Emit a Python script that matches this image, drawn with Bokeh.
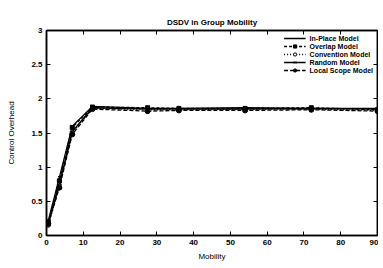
from bokeh.plotting import figure
from bokeh.models import Range1d, LinearAxis, FixedTicker, Legend, LegendItem
from bokeh.embed import file_html
from bokeh.resources import INLINE

mobility = [0.5, 3.5, 7, 12.5, 27.5, 36, 54, 72, 90]
in_place = [0.18, 0.75, 1.52, 1.87, 1.85, 1.85, 1.85, 1.86, 1.85]
overlap = [0.20, 0.80, 1.58, 1.88, 1.87, 1.86, 1.86, 1.87, 1.84]
convention = [0.15, 0.72, 1.50, 1.86, 1.84, 1.84, 1.85, 1.85, 1.83]
random_m = [0.22, 0.85, 1.60, 1.89, 1.86, 1.86, 1.87, 1.86, 1.86]
local_scope = [0.17, 0.70, 1.48, 1.85, 1.82, 1.83, 1.83, 1.84, 1.82]
x_ticks = [0, 10, 20, 30, 40, 50, 60, 70, 80, 90]
y_ticks = [0, 0.5, 1, 1.5, 2, 2.5, 3]

FONT = "Liberation Sans"

p = figure(frame_width=331, frame_height=205, output_backend="svg", toolbar_location=None,
           x_range=Range1d(0, 90), y_range=Range1d(0, 3),
           title="DSDV in Group Mobility",
           min_border_left=46, min_border_right=1, min_border_top=30, min_border_bottom=20)
p.title.align = "center"
p.title.text_font = FONT
p.title.text_font_size = "8px"
p.title.text_font_style = "bold"
p.title.text_color = "black"
p.title.standoff = 8
p.title.offset = 0

p.xgrid.visible = False
p.ygrid.visible = False
p.outline_line_color = "black"
p.outline_line_width = 1.5

for ax in (p.xaxis[0], p.yaxis[0]):
    ax.major_tick_in = 4
    ax.major_tick_out = 0
    ax.minor_tick_line_color = None
    ax.axis_line_color = "black"
    ax.axis_line_width = 1.5
    ax.major_label_text_font = FONT
    ax.major_label_text_font_size = "8px"
    ax.major_label_text_font_style = "bold"
    ax.major_label_text_color = "black"
    ax.axis_label_text_font = FONT
    ax.axis_label_text_font_size = "8px"
    ax.axis_label_text_font_style = "normal"
    ax.axis_label_text_color = "black"
    ax.axis_label_standoff = 4
    ax.major_label_standoff = 4

p.xaxis[0].ticker = FixedTicker(ticks=x_ticks)
p.yaxis[0].ticker = FixedTicker(ticks=y_ticks)
p.xaxis[0].axis_label = "Mobility"
p.yaxis[0].axis_label = "Control Overhead"
p.yaxis[0].axis_label_standoff = 12

top = LinearAxis(ticker=FixedTicker(ticks=x_ticks), major_label_text_color=None,
                 major_label_text_font_size="4px",
                 major_tick_in=4, major_tick_out=0, minor_tick_line_color=None,
                 axis_line_width=1.5, major_label_standoff=0)
right = LinearAxis(ticker=FixedTicker(ticks=y_ticks), major_label_text_color=None,
                   major_label_text_font_size="4px",
                   major_tick_in=4, major_tick_out=0, minor_tick_line_color=None,
                   axis_line_width=1.5, major_label_standoff=0)
p.add_layout(top, "above")
p.add_layout(right, "right")

items = []
r1 = p.line(mobility, in_place, line_color="black", line_width=1.5)
m1 = p.scatter(mobility, in_place, marker="dash", size=5, line_color="black")
items.append(LegendItem(label="In-Place Model", renderers=[r1, m1]))

r2 = p.line(mobility, overlap, line_color="black", line_width=1.3, line_dash="3 2")
m2 = p.scatter(mobility, overlap, marker="square", size=4, line_color="black", fill_color="black")
items.append(LegendItem(label="Overlap Model", renderers=[r2, m2]))

r3 = p.line(mobility, convention, line_color="black", line_width=1.3, line_dash="1 2")
m3 = p.scatter(mobility, convention, marker="circle", size=4, line_color="black", fill_color="white")
items.append(LegendItem(label="Convention Model", renderers=[r3, m3]))

r4 = p.line(mobility, random_m, line_color="black", line_width=1.3)
m4 = p.scatter(mobility, random_m, marker="x", size=4, line_color="black")
items.append(LegendItem(label="Random Model", renderers=[r4, m4]))

r5 = p.line(mobility, local_scope, line_color="black", line_width=1.3, line_dash="4 2")
m5 = p.scatter(mobility, local_scope, marker="circle", size=5, line_color="black", fill_color="black")
items.append(LegendItem(label="Local Scope Model", renderers=[r5, m5]))

legend = Legend(items=items, location="top_right", border_line_color=None,
                background_fill_alpha=0, label_text_font=FONT, label_text_font_size="7px",
                label_text_font_style="bold", label_text_color="black",
                label_height=8, glyph_height=8, glyph_width=22,
                spacing=0, padding=3, margin=4, label_standoff=4)
p.add_layout(legend)

open("out.html", "w").write(file_html(p, INLINE))
